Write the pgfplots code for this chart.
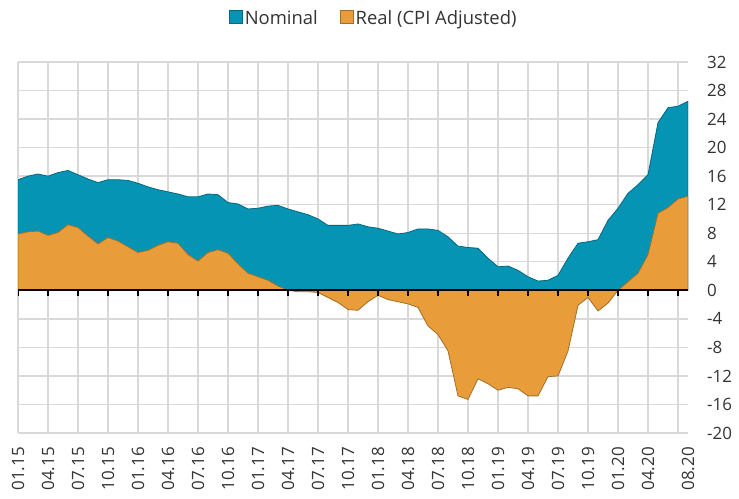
\documentclass[border=0pt]{standalone}
\usepackage{pgfplots}
\usepackage{pgfplotstable}
\pgfplotsset{compat=1.18}
\usepackage{fontspec}
\setmainfont{Open Sans}
\definecolor{nom}{RGB}{6,148,181}
\definecolor{rea}{RGB}{232,157,58}
\definecolor{gridc}{RGB}{217,217,217}
\pgfplotstableread{
x nom real
0 15.5 7.9
1 16.0 8.2
2 16.3 8.3
3 16.0 7.7
4 16.5 8.1
5 16.8 9.2
6 16.2 8.8
7 15.6 7.6
8 15.1 6.5
9 15.5 7.4
10 15.5 6.9
11 15.4 6.1
12 15.0 5.3
13 14.5 5.6
14 14.1 6.3
15 13.8 6.8
16 13.5 6.6
17 13.1 5.0
18 13.1 4.1
19 13.5 5.3
20 13.4 5.7
21 12.3 5.2
22 12.1 3.7
23 11.4 2.4
24 11.5 1.9
25 11.8 1.4
26 11.9 0.6
27 11.4 0.0
28 11.0 -0.2
29 10.6 -0.2
30 10.0 -0.3
31 9.1 -1.0
32 9.1 -1.7
33 9.1 -2.7
34 9.3 -2.8
35 8.9 -1.6
36 8.7 -0.7
37 8.3 -1.3
38 7.9 -1.6
39 8.1 -1.9
40 8.6 -2.4
41 8.6 -5.0
42 8.4 -6.2
43 7.5 -8.5
44 6.2 -14.8
45 6.0 -15.3
46 5.9 -12.4
47 4.5 -13.1
48 3.3 -14.0
49 3.4 -13.6
50 2.8 -13.8
51 1.9 -14.8
52 1.3 -14.8
53 1.4 -12.1
54 2.1 -12.0
55 4.5 -8.5
56 6.6 -2.1
57 6.8 -1.0
58 7.1 -2.9
59 9.8 -1.8
60 11.5 0.0
61 13.6 1.2
62 14.8 2.4
63 16.2 5.0
64 23.5 10.8
65 25.6 11.6
66 25.8 12.8
67 26.5 13.2
}\datatable
\begin{document}
\begin{tikzpicture}
\begin{axis}[
  name=ax,
  at={(0,0)}, anchor=south west,
  scale only axis,
  width=670bp, height=371bp,
  xmin=0, xmax=67, ymin=-20, ymax=32,
  axis line style={draw=none},
  major tick length=0pt, minor tick length=0pt,
  xmajorgrids=false, xminorgrids=true, ymajorgrids=true,
  grid style={gridc, line width=1.4bp},
  minor grid style={gridc, line width=1.4bp},
  xtick={0,3,...,63,67},
  minor xtick={0,3,...,66},
  xticklabels={01.15,04.15,07.15,10.15,01.16,04.16,07.16,10.16,01.17,04.17,07.17,10.17,01.18,04.18,07.18,10.18,01.19,04.19,07.19,10.19,01.20,04.20,08.20},
  xticklabel style={yshift=-14bp, rotate=90, anchor=east, inner sep=0pt},
  ytick={-20,-16,...,32},
  yticklabels={-20,-16,-12,-8,-4,0,4,8,12,16,20,24,28,32},
  yticklabel pos=right,
  yticklabel style={xshift=19bp, anchor=west, inner sep=0pt},
  tick label style={font=\fontsize{17}{20}\selectfont, text=black!80},
  legend style={draw=none, fill=none, at={(0.531,1.119)}, anchor=center,
    font=\fontsize{18.5}{21}\selectfont, text=black!80, legend columns=2,
    /tikz/every even column/.append style={column sep=20bp}},
  legend image code/.code={\fill[#1] (0bp,-6bp) rectangle (13bp,7bp);},
]
\addplot[fill=nom, draw=nom!70!black, line width=0.8bp] table[x=x, y=nom] {\datatable} \closedcycle;
\addlegendentry{Nominal}
\addplot[fill=rea, draw=rea!70!black, line width=0.8bp] table[x=x, y=real] {\datatable} \closedcycle;
\addlegendentry{Real (CPI Adjusted)}
\draw[black, line width=1.8bp] (axis cs:0,0) -- (axis cs:67,0);
\pgfplotsinvokeforeach{0,3,...,66}{\draw[black, line width=1.6bp] (axis cs:#1,0) -- ++(0bp,-6bp);}
\end{axis}
\pgfresetboundingbox
\path[use as bounding box] ([xshift=-18bp,yshift=-66bp]ax.south west) rectangle ([xshift=51bp,yshift=62bp]ax.north east);
\end{tikzpicture}
\end{document}
